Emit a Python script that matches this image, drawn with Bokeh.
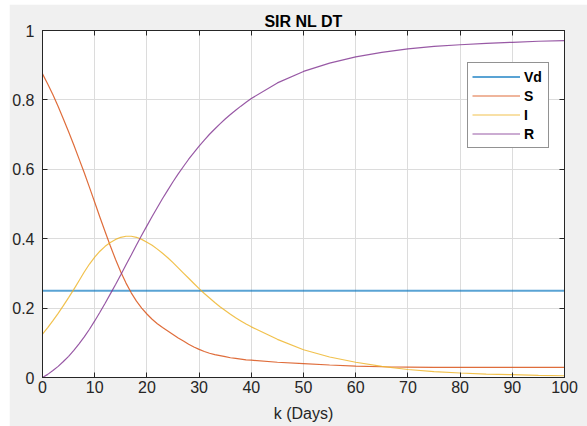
from bokeh.plotting import figure
from bokeh.models import (Range1d, LinearAxis, FixedTicker, CustomJSTickFormatter,
                          Legend, LegendItem)
from bokeh.embed import file_html
from bokeh.resources import INLINE

# Time axis (days) and SIR state fractions
k = [0, 1, 2, 3, 4, 5, 6, 7, 8, 9, 10, 11, 12, 13, 14, 15, 16, 17, 18, 19, 20,
     21, 22, 23, 24, 25, 26, 27, 28, 29, 30, 31, 32, 33, 34, 35, 36, 37, 38, 39, 40,
     45, 50, 55, 60, 65, 70, 75, 80, 85, 90, 95, 100]
S = [0.875, 0.846, 0.815, 0.781, 0.745, 0.708, 0.670, 0.630, 0.590, 0.548, 0.505,
     0.462, 0.420, 0.379, 0.340, 0.304, 0.272, 0.244, 0.220, 0.200, 0.183,
     0.168, 0.155, 0.144, 0.134, 0.124, 0.114, 0.105, 0.096, 0.088, 0.081,
     0.075, 0.070, 0.066, 0.063, 0.060, 0.057, 0.055, 0.053, 0.051, 0.050,
     0.044, 0.040, 0.036, 0.033, 0.031, 0.030, 0.029, 0.029, 0.029, 0.029, 0.029, 0.029]
I = [0.125, 0.144, 0.164, 0.185, 0.207, 0.230, 0.254, 0.279, 0.304, 0.327, 0.347,
     0.364, 0.378, 0.389, 0.398, 0.404, 0.407, 0.407, 0.404, 0.398, 0.390,
     0.381, 0.370, 0.358, 0.345, 0.331, 0.316, 0.301, 0.286, 0.271, 0.256,
     0.242, 0.229, 0.216, 0.204, 0.193, 0.182, 0.172, 0.163, 0.154, 0.146,
     0.110, 0.080, 0.059, 0.044, 0.032, 0.023, 0.017, 0.013, 0.010, 0.008, 0.006, 0.005]
R = [0.000, 0.009, 0.020, 0.032, 0.046, 0.061, 0.078, 0.097, 0.117, 0.139, 0.163,
     0.188, 0.214, 0.241, 0.268, 0.296, 0.325, 0.353, 0.382, 0.410, 0.437,
     0.464, 0.490, 0.516, 0.540, 0.564, 0.587, 0.608, 0.629, 0.648, 0.667,
     0.684, 0.701, 0.716, 0.731, 0.745, 0.758, 0.770, 0.782, 0.793, 0.804,
     0.849, 0.882, 0.906, 0.924, 0.937, 0.947, 0.954, 0.959, 0.963, 0.966, 0.969, 0.971]

# Threshold line Vd
k_vd = [0, 100]
vd = [0.25, 0.25]

x_ticks = [0, 10, 20, 30, 40, 50, 60, 70, 80, 90, 100]
y_ticks = [0, 0.2, 0.4, 0.6, 0.8, 1]

FONT = "Liberation Sans"
DARK = "#262626"

p = figure(width=578, height=422, output_backend="svg", toolbar_location=None,
           x_range=Range1d(0, 100), y_range=Range1d(0, 1),
           title="SIR NL DT", x_axis_label="k (Days)",
           min_border_left=33, min_border_right=23, min_border_top=26, min_border_bottom=49,
           margin=(4, 0, 0, 9))

p.background_fill_color = "white"
p.border_fill_color = "#f0f0f0"
p.outline_line_color = DARK
p.outline_line_width = 1

p.title.align = "center"
p.title.text_font = FONT
p.title.text_font_size = "16px"
p.title.text_font_style = "bold"
p.title.text_color = "black"
p.title.standoff = 2

bottom = p.below[0]
left = p.left[0]
bottom.ticker = FixedTicker(ticks=x_ticks)
left.ticker = FixedTicker(ticks=y_ticks)
left.formatter = CustomJSTickFormatter(code="return tick.toString();")

# Box axes on top and right carry only inward ticks
top = LinearAxis(ticker=FixedTicker(ticks=x_ticks))
right = LinearAxis(ticker=FixedTicker(ticks=y_ticks))
p.add_layout(top, "above")
p.add_layout(right, "right")

for ax in [bottom, left, top, right]:
    ax.major_tick_in = 5
    ax.major_tick_out = 0
    ax.minor_tick_line_color = None
    ax.axis_line_color = DARK
    ax.major_tick_line_color = DARK
    ax.major_label_text_font = FONT
    ax.major_label_text_font_size = "16px"
    ax.major_label_text_color = DARK

for ax in [top, right]:
    ax.major_label_text_font_size = "0px"
    ax.major_label_text_color = None
    ax.major_label_standoff = 0

bottom.major_label_standoff = 3
left.major_label_standoff = 8
bottom.axis_label_text_font = FONT
bottom.axis_label_text_font_size = "16px"
bottom.axis_label_text_font_style = "normal"
bottom.axis_label_text_color = DARK
bottom.axis_label_standoff = 9

p.xgrid.ticker = FixedTicker(ticks=x_ticks)
p.ygrid.ticker = FixedTicker(ticks=y_ticks)
p.grid.grid_line_color = "#dcdcdc"
p.grid.grid_line_width = 1

r_vd = p.line(k_vd, vd, line_color="#0072BD", line_width=1.8, line_alpha=0.65)
r_s = p.line(k, S, line_color="#D95319", line_width=1.2, line_alpha=0.85)
r_i = p.line(k, I, line_color="#EDB120", line_width=1.2, line_alpha=0.8)
r_r = p.line(k, R, line_color="#7E2F8E", line_width=1.2, line_alpha=0.8)

legend = Legend(items=[LegendItem(label="Vd", renderers=[r_vd]),
                       LegendItem(label="S", renderers=[r_s]),
                       LegendItem(label="I", renderers=[r_i]),
                       LegendItem(label="R", renderers=[r_r])],
                location=(425, 229), padding=4, spacing=0, margin=0,
                glyph_width=48, glyph_height=19, label_height=19, label_standoff=4,
                label_text_font=FONT, label_text_font_size="14px",
                label_text_font_style="bold", label_text_color="black",
                border_line_color=DARK, border_line_width=1,
                background_fill_color="white", background_fill_alpha=1)
p.add_layout(legend, "center")

open("out.html", "w").write(file_html(p, INLINE))
